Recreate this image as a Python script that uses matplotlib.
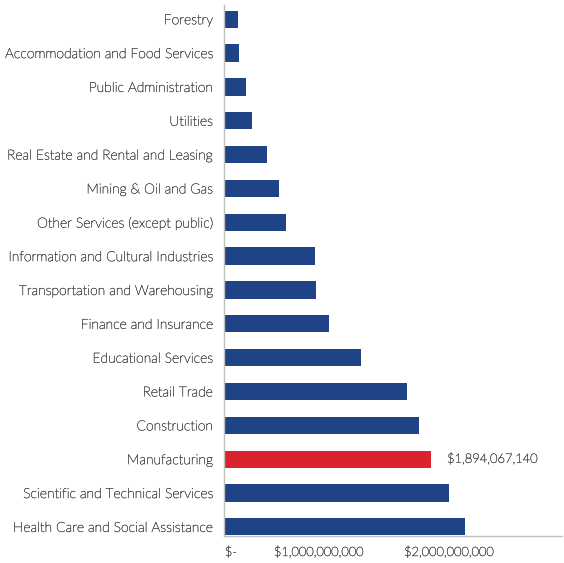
import numpy as np
import matplotlib.pyplot as plt
import matplotlib.patheffects as pe
from matplotlib.transforms import offset_copy

industries = [
    "Health Care and Social Assistance",
    "Scientific and Technical Services",
    "Manufacturing",
    "Construction",
    "Retail Trade",
    "Educational Services",
    "Finance and Insurance",
    "Transportation and Warehousing",
    "Information and Cultural Industries",
    "Other Services (except public)",
    "Mining & Oil and Gas",
    "Real Estate and Rental and Leasing",
    "Utilities",
    "Public Administration",
    "Accommodation and Food Services",
    "Forestry",
]
gdp = [
    2.205e9, 2.059e9, 1894067140, 1.784e9, 1.674e9, 1.253e9, 0.961e9, 0.842e9,
    0.833e9, 0.567e9, 0.503e9, 0.393e9, 0.256e9, 0.200e9, 0.137e9, 0.128e9,
]
highlight = "Manufacturing"
xtick_vals = [0, 1e9, 2e9]
xtick_labels = ["$-", "$1,000,000,000", "$2,000,000,000"]
# small horizontal nudges (points) for the x tick labels
xtick_shift = [5, -11, 4]

BLUE = "#1F4387"
RED = "#D9232E"
GREY_TXT = "#555555"

plt.rcParams['font.family'] = ['Lato', 'DejaVu Sans']
# thicken the light weight a touch
txt_fx = [pe.withStroke(linewidth=0.3, foreground=GREY_TXT)]

fig = plt.figure(figsize=(5.64, 5.63), dpi=100)
ax = fig.add_axes([224 / 564, 1 - 536 / 563, (562 - 224) / 564, 531 / 563])

y = np.arange(len(industries))
colors = [RED if name == highlight else BLUE for name in industries]
ax.barh(y, gdp, height=0.51, color=colors)

# value label for the highlighted sector
i = industries.index(highlight)
ax.text(gdp[i] + 0.145e9, y[i], "${:,.0f}".format(gdp[i]), va="center", ha="left",
        fontsize=9.3, color=GREY_TXT, fontweight="light", path_effects=txt_fx)

ax.set_yticks(y)
ax.set_yticklabels(industries, fontsize=10, color=GREY_TXT, fontweight="light")
for lab in ax.get_yticklabels():
    lab.set_path_effects(txt_fx)
ax.tick_params(axis="y", length=0, pad=8)

# x labels drawn as text so each one can be nudged sideways
ax.set_xticks([])
for val, lab, dx in zip(xtick_vals, xtick_labels, xtick_shift):
    tr = offset_copy(ax.get_xaxis_transform(), fig=fig, x=dx, y=-7, units="points")
    ax.text(val, 0, lab, transform=tr, ha="center", va="top",
            fontsize=9.2, color=GREY_TXT, fontweight="light", path_effects=txt_fx)

ax.set_xlim(0, 3.09e9)
ax.set_ylim(-0.27, 15.42)

for side in ["top", "right"]:
    ax.spines[side].set_visible(False)
for side in ["left", "bottom"]:
    ax.spines[side].set_color("#BFBFBF")
    ax.spines[side].set_linewidth(1.0)

fig.savefig("out.png", dpi=100)
